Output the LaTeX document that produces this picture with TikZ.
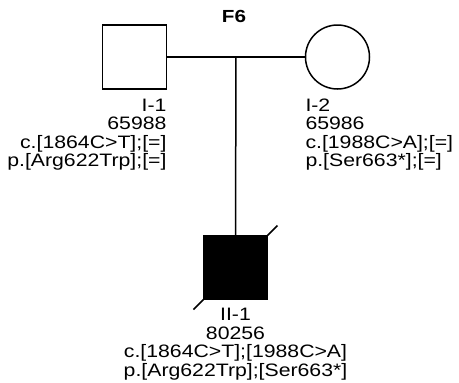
\documentclass[tikz,border=0pt]{standalone}
\usepackage{fontspec}
\setmainfont{Liberation Sans}[FakeStretch=1.18]
\usetikzlibrary{positioning}

\begin{document}
\begin{tikzpicture}[
  x=1pt, y=-1pt,
  line width=1.5pt,
  font=\fontsize{18}{18.4}\selectfont,
  male/.style  ={draw,minimum size=64pt,inner sep=0pt,outer sep=0pt},
  female/.style={draw,circle,minimum size=64pt,inner sep=0pt,outer sep=0pt},
  lbl/.style   ={inner sep=0pt,outer sep=0pt}]

\useasboundingbox (0,0) rectangle (459,383);

% ---------- title ----------
\node[lbl,font=\fontsize{17.5}{18}\selectfont\bfseries] (title) at (234,16.5) {F6};

% ---------- generation I ----------
\node[male]   (i1) at (134.5,57) {};
\node[female] (i2) at (337.5,57) {};
\draw (i1.east) -- (i2.west);
\coordinate (mar) at (236,57);

\node[lbl, below=10pt of i1.south east, anchor=north east, align=right] (i1-lbl)
  {I-1\\65988\\c.[1864C>T];[=]\\p.[Arg622Trp];[=]};
\node[lbl, anchor=north west, align=left] (i2-lbl)
  at ([yshift=-10pt]i2.south -| i2.west)
  {I-2\\65986\\c.[1988C>A];[=]\\p.[Ser663*];[=]};

% ---------- generation II ----------
\node[male,fill=black] (ii1) at (235.5,267.5) {};
\draw (mar) -- (ii1.north);
\draw (ii1.south west) -- ++(-10pt,-10pt);
\draw (ii1.north east) -- ++(10pt,10pt);

\node[lbl, below=9pt of ii1.south, anchor=north, align=center] (ii1-lbl)
  {II-1\\80256\\c.[1864C>T];[1988C>A]\\p.[Arg622Trp];[Ser663*]};

\end{tikzpicture}
\end{document}
